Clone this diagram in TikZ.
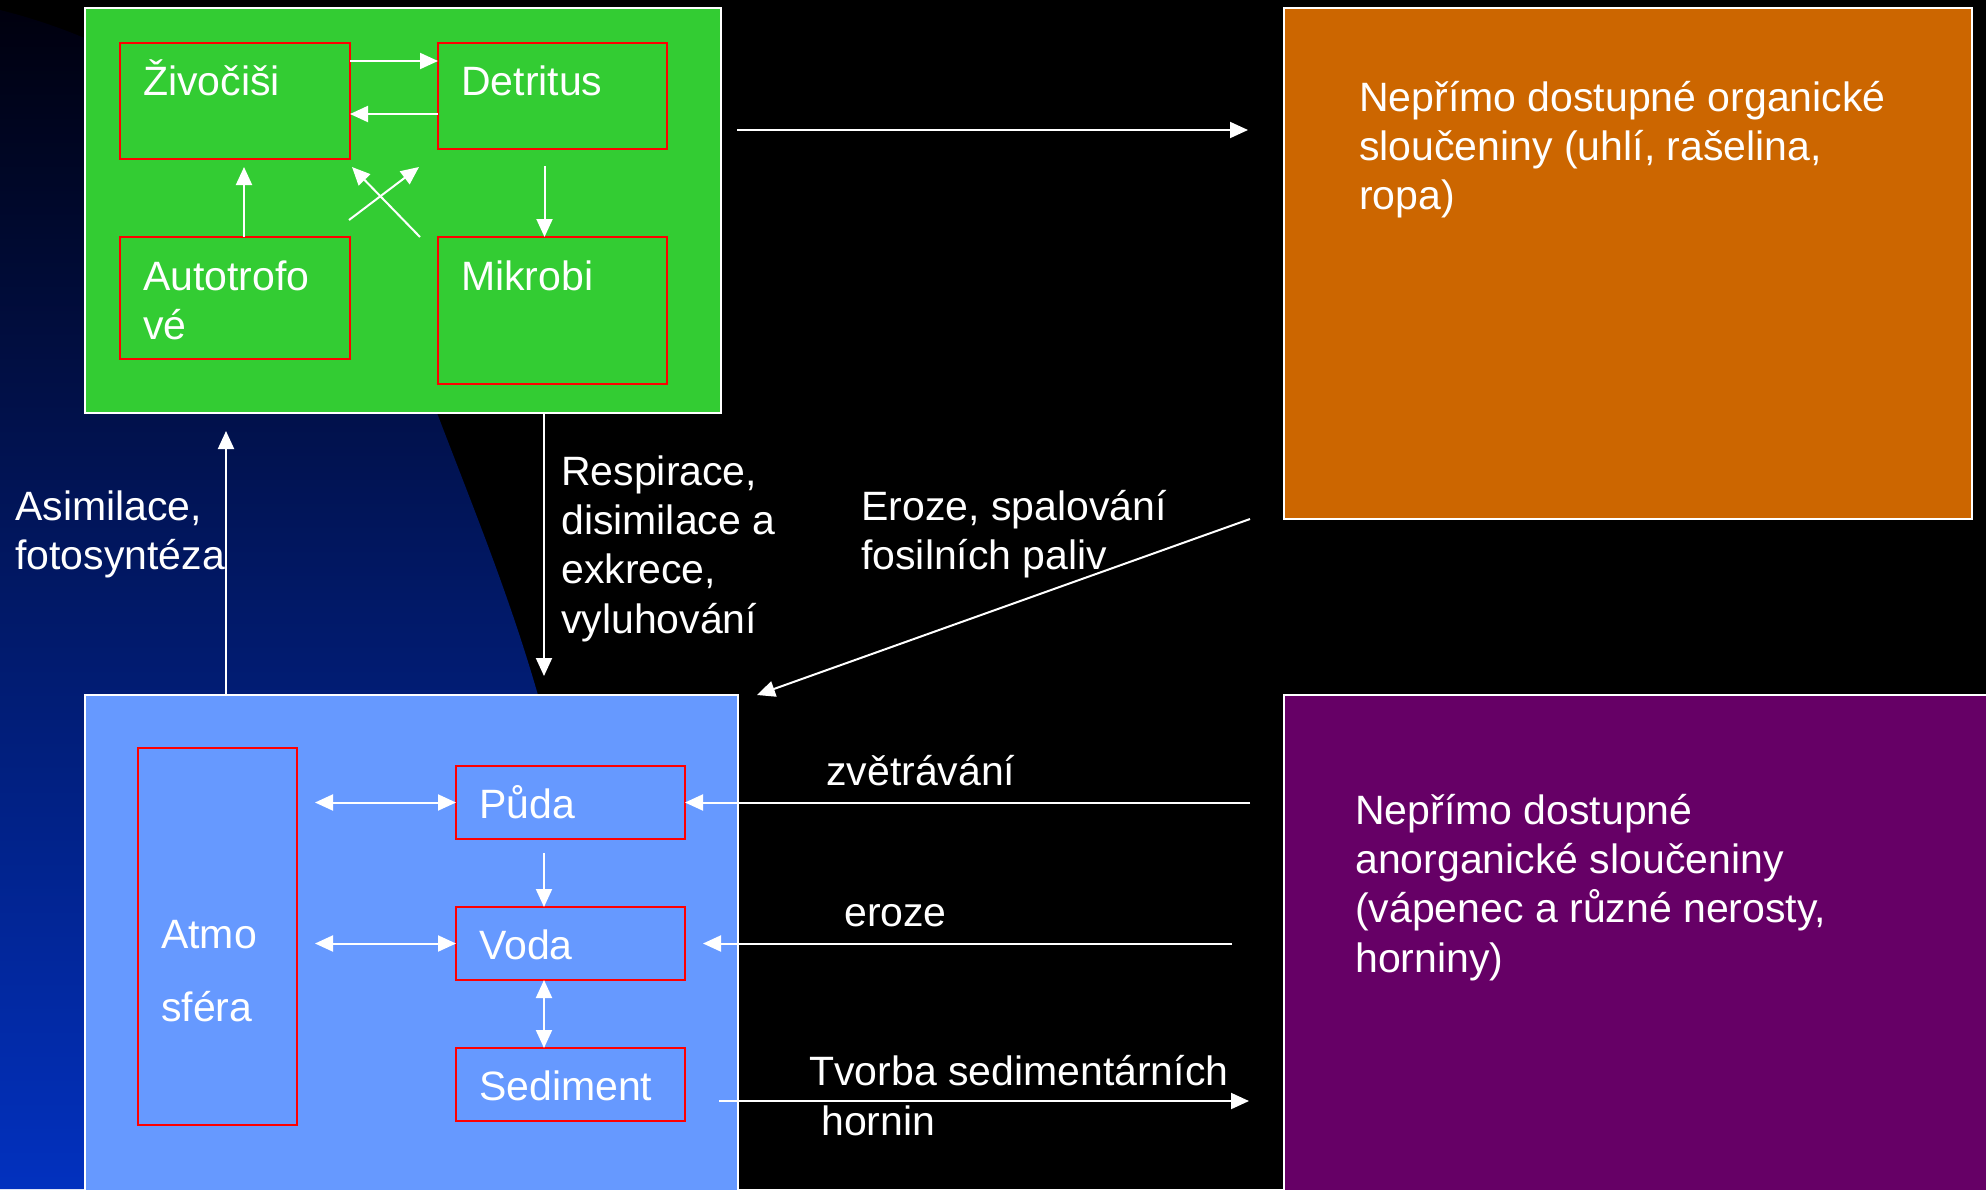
\documentclass[tikz,border=0pt]{standalone}
\usepackage{fontspec}
\setmainfont{Liberation Sans}
\usetikzlibrary{arrows.meta}

\definecolor{leafgreen}{HTML}{33CC33}
\definecolor{skyblue}{HTML}{6699FF}
\definecolor{rust}{HTML}{CC6600}
\definecolor{plum}{HTML}{660066}
\definecolor{bgtop}{HTML}{00000E}
\definecolor{bgmid}{HTML}{002284}
\definecolor{bgbot}{HTML}{0231BF}

\begin{document}
\begin{tikzpicture}[x=1pt,y=-1pt,
    panel/.style={draw=white,line width=2.5pt,anchor=north west,inner sep=0,outer sep=0},
    part/.style={draw=red,line width=2.5pt,anchor=north west,inner sep=0,outer sep=0},
    lbl/.style={text=white,font=\fontsize{41}{49.4}\selectfont,inner sep=0,anchor=base west,align=left},
    flow/.style={white,line width=2pt,-{Triangle[length=18pt,width=16pt]}},
    twoway/.style={white,line width=2pt,{Triangle[length=18pt,width=16pt]}-{Triangle[length=18pt,width=16pt]}}]

    % Background
    \useasboundingbox (0,0) rectangle (1986,1189);
    \fill[black] (0,0) rectangle (1986,1189);
    \shade[top color=bgtop,middle color=bgmid,bottom color=bgbot]
        (0,10) .. controls (260,75) and (390,290) .. (437,413)
        .. controls (480,525) and (515,610) .. (545,720) -- (640,1189) -- (0,1189) -- cycle;

    % Organic part
    \node[panel,fill=leafgreen,minimum width=636pt,minimum height=405pt] (green) at (85,8) {};
    \node[part,minimum width=230pt,minimum height=116pt] (zivo) at (120,43) {};
    \node[part,minimum width=229pt,minimum height=106pt] (detr) at (438,43) {};
    \node[part,minimum width=230pt,minimum height=122pt] (auto) at (120,237) {};
    \node[part,minimum width=229pt,minimum height=147pt] (mikr) at (438,237) {};
    \node[lbl] (zivotxt) at (143,95) {Živočiši};
    \node[lbl] (detrtxt) at (461,95) {Detritus};
    \node[lbl] (autotxt) at (143,339.4) {Autotrofo\\vé};
    \node[lbl] (mikrtxt) at (461,290) {Mikrobi};

    % Inorganic part
    \node[panel,fill=skyblue,minimum width=653pt,minimum height=500pt] (blue) at (85,695) {};
    \node[part,minimum width=159pt,minimum height=377pt] (atmo) at (138,748) {};
    \node[part,minimum width=229pt,minimum height=73pt] (puda) at (456,766) {};
    \node[part,minimum width=229pt,minimum height=73pt] (voda) at (456,907) {};
    \node[part,minimum width=229pt,minimum height=73pt] (sed) at (456,1048) {};
    \node[lbl] (atmotxt) at (161,1021) {Atmo\\[23.6pt]sféra};
    \node[lbl] (pudatxt) at (479,818) {Půda};
    \node[lbl] (vodatxt) at (479,959) {Voda};
    \node[lbl] (sedtxt) at (479,1100) {Sediment};

    % Reservoirs
    \node[panel,fill=rust,minimum width=688pt,minimum height=511pt] (org) at (1284,8) {};
    \node[panel,fill=plum,minimum width=710pt,minimum height=500pt] (inorg) at (1284,695) {};
    \node[lbl] (orgtxt) at (1359,209.8) {Nepřímo dostupné organické\\sloučeniny (uhlí, rašelina,\\ropa)};
    \node[lbl] (inorgtxt) at (1355,972.2) {Nepřímo dostupné\\anorganické sloučeniny\\(vápenec a různé nerosty,\\horniny)};

    % Process labels
    \node[lbl] (asim) at (15,569.4) {Asimilace,\\fotosyntéza};
    \node[lbl] (resp) at (561,633.2) {Respirace,\\disimilace a\\exkrece,\\vyluhování};
    \node[lbl] (spal) at (861,569.4) {Eroze, spalování\\fosilních paliv};
    \node[lbl] (zvet) at (826,785) {zvětrávání};
    \node[lbl] (eroz) at (844,926) {eroze};
    \node[lbl] (tvor) at (809,1085) {Tvorba sedimentárních};
    \node[lbl] (horn) at (821,1135) {hornin};

    % Arrows inside the green box
    \draw[flow] ([yshift=-18pt]zivo.north east) -- ([yshift=-18pt]detr.north west);
    \draw[flow] ([yshift=-71pt]detr.north west) -- ([yshift=-71pt]zivo.north east);
    \draw[flow] ([xshift=9pt]auto.north) -- ([xshift=9pt,yshift=-8pt]zivo.south);
    \draw[flow] ([xshift=-1pt,yshift=17pt]auto.north east) -- ([xshift=-19pt,yshift=-18pt]detr.south west);
    \draw[flow] ([xshift=-18pt]mikr.north west) -- ([xshift=2pt,yshift=-8pt]zivo.south east);
    \draw[flow] ([xshift=-8pt,yshift=-17pt]detr.south) -- ([xshift=-8pt]mikr.north);

    % Arrows between the parts
    \draw[flow] ([xshift=-185.5pt]blue.north) coordinate (up) -- ([yshift=-18pt]up |- green.south);
    \draw[flow] ([xshift=141pt]green.south) coordinate (down) -- ([yshift=19pt]down |- blue.north);
    \draw[flow] ([xshift=16pt,yshift=-122pt]green.north east) -- ([xshift=-36pt,yshift=-122pt]org.north west);
    \draw[flow] ([xshift=-34pt]org.south west) -- ([xshift=19pt]blue.north east);
    \draw[flow] ([xshift=-34pt]puda.east -| inorg.west) -- (puda.east);
    \draw[flow] ([xshift=-52pt]voda.east -| inorg.west) -- ([xshift=18pt]voda.east);
    \draw[flow] ([xshift=34pt,yshift=-16.5pt]sed.east) -- ([xshift=-35pt,yshift=-16.5pt]sed.east -| inorg.west);

    % Arrows inside the blue box
    \draw[twoway] ([xshift=18pt]puda.west -| atmo.east) -- (puda.west);
    \draw[twoway] ([xshift=18pt]voda.west -| atmo.east) -- (voda.west);
    \draw[flow] ([xshift=-26.5pt,yshift=-14pt]puda.south) -- ([xshift=-26.5pt]voda.north);
    \draw[twoway] ([xshift=-26.5pt]voda.south) -- ([xshift=-26.5pt]sed.north);
\end{tikzpicture}
\end{document}
